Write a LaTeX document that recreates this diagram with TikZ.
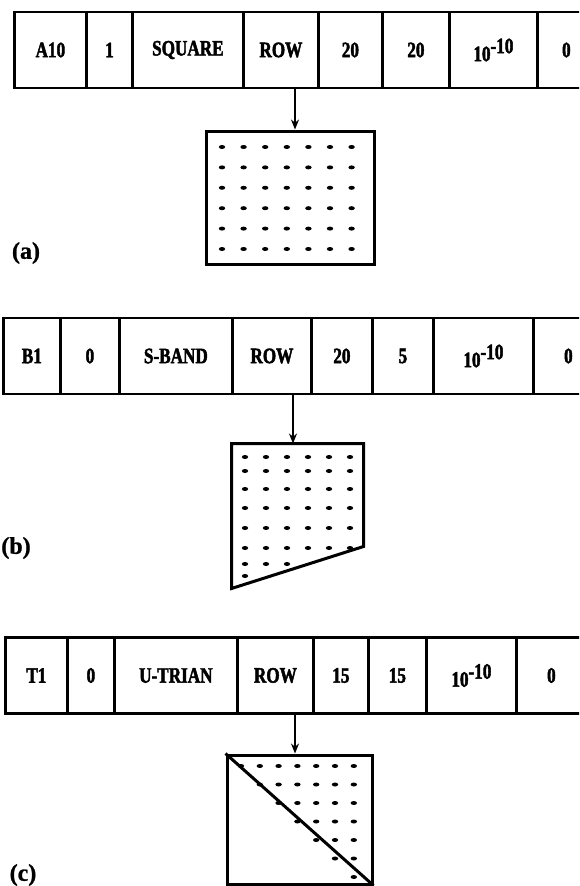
\documentclass[tikz,border=0pt]{standalone}
\usepackage{fontspec}
\newfontfamily\cellfont{Liberation Serif}[FakeStretch=0.78,BoldFeatures={FakeBold=2}]
\newfontfamily\tagfont{Liberation Serif}[BoldFeatures={FakeBold=1}]
\usepackage{tikz}
\usetikzlibrary{arrows.meta}

\newcommand{\tenpow}{10\raisebox{8pt}{-10}}

\begin{document}
\begin{tikzpicture}[x=1pt,y=-1pt,
      every node/.style={font=\cellfont\bfseries\fontsize{22}{22}\selectfont},
      cell/.style={draw,line width=2.8pt,minimum height=76pt,inner sep=0pt,anchor=west},
      frame/.style={line width=3pt,inner sep=0pt},
      feed/.style={line width=2pt,-{Stealth[length=10pt,width=8pt]}},
      tag/.style={font=\tagfont\bfseries\fontsize{24}{24}\selectfont}]
    \path[use as bounding box,clip] (0,0) rectangle (579,886);
    % (a) full square matrix
    \foreach \l/\r/\w [count=\i] in {13/85/A10,85/131/1,131/242/SQUARE,242/317/ROW,
        317/381/20,381/448/20,448/536/\tenpow,536/594/0}
      \node[cell,minimum width=\r pt-\l pt] (a\i) at (\l,50) {\w};
    \node[frame,draw,minimum width=168pt,minimum height=133pt] (sqa) at (290,197.5) {};
    \foreach \p in {0,...,6}
      \foreach \q in {0,...,5}
        \fill ({222+21.6*\p},{147+20.4*\q}) ellipse (3.2pt and 2pt);
    \draw[feed] ([xshift=5pt]sqa.north |- a4.south) -- ([xshift=5pt]sqa.north);
    \node[tag] (taga) at (26,253) {(a)};
    % (b) band matrix
    \foreach \l/\r/\w [count=\i] in {2/59/B1,59/118/0,118/231/S-BAND,231/310/ROW,
        310/371/20,371/432/5,432/532/\tenpow,532/602/0}
      \node[cell,minimum width=\r pt-\l pt] (b\i) at (\l,356) {\w};
    \node[frame,minimum width=129pt,minimum height=142pt] (sqb) at (297.5,516) {};
    \draw[frame,line join=miter] (sqb.north west) -- (sqb.north east)
      -- ([yshift=42pt]sqb.south east) -- (sqb.south west) -- cycle;
    \foreach \y/\n in {457/6,471/6,489/6,508/6,528/6,548/6,564/3,576/1}
      \foreach \q in {1,...,\n}
        \fill ({224+21*\q},\y) ellipse (3.2pt and 2pt);
    \draw[feed] ([xshift=-4.5pt]sqb.north |- b4.south) -- ([xshift=-4.5pt]sqb.north);
    \node[tag] (tagb) at (16,548) {(b)};
    % (c) upper triangular matrix
    \foreach \l/\r/\w [count=\i] in {4/66/T1,66/113/0,113/236/U-TRIAN,236/312/ROW,
        312/367/15,367/425/15,425/515/\tenpow,515/585/0}
      \node[cell,minimum width=\r pt-\l pt] (c\i) at (\l,675.5) {\w};
    \node[frame,draw,minimum width=145pt,minimum height=129pt] (sqc) at (299.5,819.5) {};
    \draw[frame] (sqc.north west) -- (sqc.south east);
    \foreach \r in {0,...,6}
      \foreach \q in {\r,...,6}
        \fill ({241+18.8*\q},{766+18.5*\r}) ellipse (3.2pt and 2pt);
    \draw[feed] ([xshift=-4.5pt]sqc.north |- c4.south) -- ([xshift=-4.5pt]sqc.north);
    \node[tag] (tagc) at (23,875) {(c)};
  \end{tikzpicture}
\end{document}
